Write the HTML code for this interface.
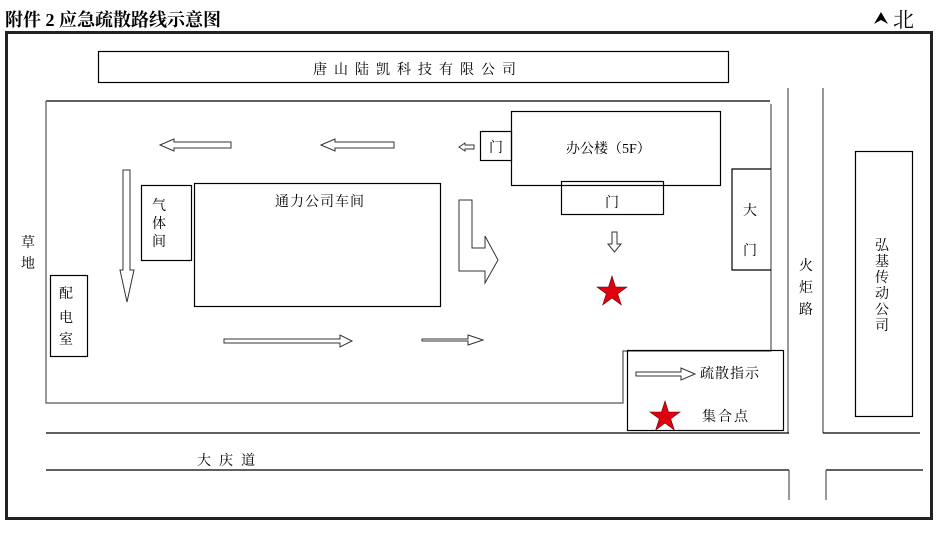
<!DOCTYPE html>
<html><head><meta charset="utf-8"><style>
body{margin:0;background:#fff}
svg{display:block}
text{font-family:"Liberation Serif","Noto Serif CJK SC","Noto Sans CJK SC",serif;fill:#000}
</style></head><body>
<svg width="950" height="534" viewBox="0 0 950 534" xmlns="http://www.w3.org/2000/svg">
<text x="5" y="26" font-size="18" font-weight="bold">附件 2  应急疏散路线示意图</text>
<polygon points="874,24 881,12 888,24 881,20" fill="#000"/>
<text x="893" y="27" font-size="21">北</text>
<rect x="6.5" y="32.5" width="925" height="486" fill="none" stroke="#222" stroke-width="3"/>
<g fill="none" stroke="#000" stroke-width="1.2">
<rect x="98.5" y="51.5" width="630" height="31"/>
<polyline points="46,101 770,101"/>
<polyline points="46,101 46,403 623,403 623,351 771,351 771,104" stroke="#555"/>
<rect x="511.5" y="111.5" width="209" height="74"/>
<rect x="480.5" y="131.5" width="31" height="29"/>
<rect x="561.5" y="181.5" width="102" height="33"/>
<polyline points="771,169 732,169 732,270 771,270"/>
<rect x="194.5" y="183.5" width="246" height="123"/>
<rect x="141.5" y="185.5" width="50" height="75"/>
<rect x="50.5" y="275.5" width="37" height="81"/>
<rect x="855.5" y="151.5" width="57" height="265"/>
<rect x="627.5" y="350.5" width="156" height="80"/>
<line x1="788" y1="88" x2="788" y2="433" stroke="#555"/>
<line x1="823" y1="88" x2="823" y2="433" stroke="#555"/>
<line x1="46" y1="433" x2="789" y2="433"/>
<line x1="823" y1="433" x2="920" y2="433"/>
<line x1="46" y1="470" x2="789" y2="470"/>
<line x1="826" y1="470" x2="923" y2="470"/>
<line x1="789" y1="470" x2="789" y2="500" stroke="#555"/>
<line x1="826" y1="470" x2="826" y2="500" stroke="#555"/>
</g>
<g fill="#fff" stroke="#333" stroke-width="1">
<polygon points="160,145 174,139 174,142 231,142 231,148 174,148 174,151"/>
<polygon points="321,145 335,139 335,142 394,142 394,148 335,148 335,151"/>
<polygon points="459,147 465,143 465,145 474,145 474,149 465,149 465,151"/>
<polygon points="123,170 130,170 130,270 134,270 127,302 120,270 123,270"/>
<polygon points="459,200 472,200 472,248 485,248 485,236 498,260 485,283 485,271 459,271"/>
<polygon points="224,339 340,339 340,335 352,341 340,347 340,343 224,343"/>
<polygon points="422,339 468,339 468,335 483,340 468,345 468,341 422,341"/>
<polygon points="612,232 617,232 617,244 621,244 614.5,252 608,244 612,244"/>
<polygon points="636,372 681,372 681,368 695,374 681,380 681,376 636,376"/>
</g>
<g fill="#e00010" stroke="#600" stroke-width="0.6">
<polygon points="612,276 615.5,287 627,287 617.7,293.8 621.3,305 612,298 602.7,305 606.3,293.8 597,287 608.5,287"/>
<polygon points="665,401 668.5,412 680,412 670.7,418.8 674.3,430 665,423 655.7,430 659.3,418.8 650,412 661.5,412"/>
</g>
<g font-size="14">
<text x="313" y="74" letter-spacing="7">唐山陆凯科技有限公司</text>
<text x="566" y="153">办公楼（5F）</text>
<text x="489" y="152">门</text>
<text x="605" y="207">门</text>
<text x="743" y="215">大</text>
<text x="743" y="255">门</text>
<text x="275" y="206" letter-spacing="1">通力公司车间</text>
<text x="152" y="210">气</text><text x="152" y="228">体</text><text x="152" y="246">间</text>
<text x="59" y="298">配</text><text x="59" y="322">电</text><text x="59" y="344">室</text>
<text x="21" y="247">草</text><text x="21" y="268">地</text>
<text x="799" y="270">火</text><text x="799" y="292">炬</text><text x="799" y="314">路</text>
<text x="875" y="250">弘</text><text x="875" y="266">基</text><text x="875" y="282">传</text><text x="875" y="298">动</text><text x="875" y="314">公</text><text x="875" y="330">司</text>
<text x="700" y="378" letter-spacing="1">疏散指示</text>
<text x="702" y="421" letter-spacing="2">集合点</text>
<text x="197" y="465" letter-spacing="8">大庆道</text>
</g>
</svg>
</body></html>
